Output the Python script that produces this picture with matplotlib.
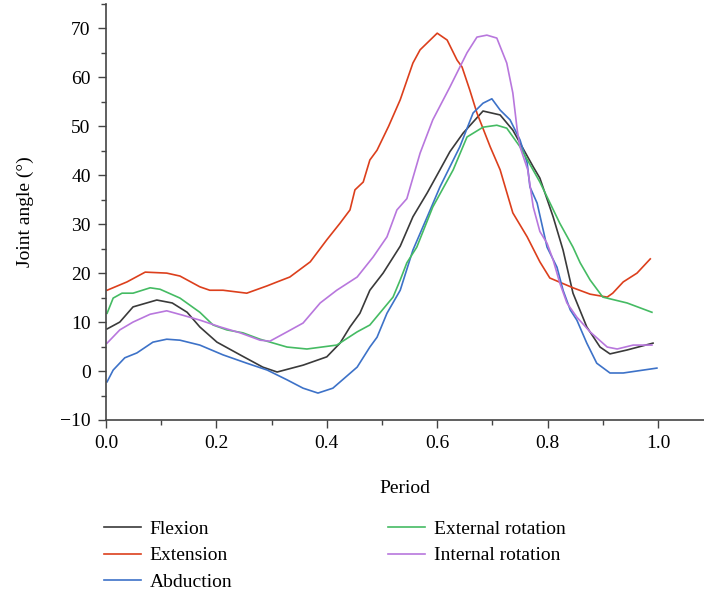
import matplotlib
matplotlib.use("Agg")
import matplotlib.pyplot as plt
from matplotlib.ticker import MultipleLocator

plt.rcParams["font.family"] = ["Liberation Serif", "DejaVu Serif"]

# Flexion (black)
flex_x = [0.002, 0.025, 0.049, 0.092, 0.12, 0.147, 0.17, 0.201, 0.243, 0.284, 0.31,
          0.357, 0.40, 0.424, 0.442, 0.46, 0.478, 0.502, 0.533, 0.556, 0.582, 0.605,
          0.623, 0.647, 0.683, 0.714, 0.737, 0.774, 0.786, 0.81, 0.828, 0.846,
          0.871, 0.895, 0.913, 0.944, 0.991]
flex_y = [8.6, 10.0, 13.1, 14.5, 13.9, 12.0, 9.0, 5.9, 3.3, 0.8, -0.2,
          1.2, 2.9, 5.7, 9.0, 11.8, 16.5, 20.0, 25.5, 31.5, 36.4, 41.1,
          44.8, 48.6, 53.1, 52.3, 49.2, 41.7, 39.4, 31.5, 24.7, 15.9,
          9.0, 4.9, 3.5, 4.3, 5.7]

# Extension (red)
ext_x = [0.002, 0.038, 0.071, 0.11, 0.134, 0.17, 0.188, 0.212, 0.255, 0.292, 0.31,
         0.333, 0.37, 0.40, 0.424, 0.442, 0.451, 0.466, 0.478, 0.491, 0.512, 0.533,
         0.556, 0.569, 0.60, 0.618, 0.636, 0.645, 0.659, 0.672, 0.696, 0.714,
         0.737, 0.763, 0.786, 0.804, 0.846, 0.877, 0.908, 0.918, 0.937, 0.962, 0.986]
ext_y = [16.5, 18.2, 20.2, 20.0, 19.4, 17.2, 16.5, 16.5, 15.9, 17.4, 18.2,
         19.2, 22.3, 26.8, 30.2, 32.9, 37.0, 38.6, 43.1, 45.1, 50.0, 55.4,
         62.9, 65.6, 69.0, 67.6, 63.5, 62.1, 57.4, 52.7, 45.8, 41.1,
         32.3, 27.4, 22.3, 19.0, 17.0, 15.7, 15.1, 15.9, 18.2, 20.0, 22.9]

# Abduction (blue)
abd_x = [0.002, 0.013, 0.034, 0.056, 0.085, 0.11, 0.134, 0.17, 0.212, 0.255, 0.292,
         0.328, 0.357, 0.384, 0.411, 0.455, 0.478, 0.491, 0.509, 0.533, 0.556,
         0.582, 0.605, 0.641, 0.665, 0.683, 0.699, 0.714, 0.732, 0.75, 0.763,
         0.768, 0.781, 0.799, 0.817, 0.828, 0.841, 0.853, 0.871, 0.889, 0.913,
         0.937, 0.998]
abd_y = [-2.2, 0.2, 2.7, 3.7, 5.9, 6.5, 6.3, 5.3, 3.3, 1.6, 0.2,
         -1.8, -3.5, -4.5, -3.5, 0.8, 4.9, 6.9, 11.8, 16.5, 24.7,
         31.5, 37.6, 45.8, 52.7, 54.7, 55.6, 53.3, 51.3, 47.2, 42.5,
         37.6, 34.3, 25.3, 21.2, 16.5, 12.5, 10.4, 5.7, 1.6, -0.4,
         -0.4, 0.6]

# External rotation (green)
er_x = [0.002, 0.013, 0.029, 0.049, 0.08, 0.098, 0.134, 0.17, 0.194, 0.219, 0.248,
        0.279, 0.328, 0.364, 0.418, 0.455, 0.478, 0.52, 0.533, 0.545, 0.563,
        0.592, 0.629, 0.654, 0.683, 0.708, 0.726, 0.75, 0.786, 0.822, 0.846,
        0.859, 0.877, 0.90, 0.944, 0.989]
er_y = [11.8, 14.9, 15.9, 15.9, 17.0, 16.7, 14.9, 12.0, 9.4, 8.4, 7.8,
        6.5, 4.9, 4.5, 5.3, 8.0, 9.4, 15.1, 18.6, 22.1, 25.3,
        33.5, 41.1, 47.8, 49.8, 50.2, 49.6, 45.8, 38.6, 30.2, 25.3,
        22.1, 18.6, 15.1, 13.9, 12.0]

# Internal rotation (purple)
ir_x = [0.002, 0.025, 0.049, 0.08, 0.11, 0.139, 0.17, 0.207, 0.243, 0.279, 0.297,
        0.328, 0.357, 0.388, 0.418, 0.455, 0.484, 0.509, 0.527, 0.545, 0.569,
        0.592, 0.623, 0.654, 0.672, 0.69, 0.708, 0.726, 0.737, 0.745, 0.75,
        0.764, 0.774, 0.786, 0.799, 0.81, 0.822, 0.835, 0.853, 0.877, 0.908,
        0.926, 0.955, 0.989]
ir_y = [5.7, 8.4, 10.0, 11.6, 12.3, 11.4, 10.4, 9.0, 7.8, 6.3, 6.1,
        8.0, 9.8, 13.9, 16.5, 19.2, 23.3, 27.4, 32.9, 35.2, 44.5,
        51.3, 58.0, 65.0, 68.2, 68.6, 68.0, 62.9, 56.8, 49.2, 45.8,
        41.1, 33.5, 28.5, 26.1, 22.7, 18.0, 13.9, 11.0, 8.0, 4.9,
        4.5, 5.3, 5.3]

series = [
    ("Flexion", flex_x, flex_y, "#3a3a3a"),
    ("Extension", ext_x, ext_y, "#dc3f1c"),
    ("Abduction", abd_x, abd_y, "#3d72c8"),
    ("External rotation", er_x, er_y, "#45bb63"),
    ("Internal rotation", ir_x, ir_y, "#b877dd"),
]

W, H = 704, 597
fig = plt.figure(figsize=(W / 100, H / 100), dpi=100)
x0, x1 = 106, 704
y0, y1 = 420, 3.8
ax = fig.add_axes([x0 / W, 1 - y0 / H, (x1 - x0) / W, (y0 - y1) / H])

for name, xs, ys, c in series:
    ax.plot(xs, ys, color=c, lw=1.2, label=name)

ax.set_xlim(0, (x1 - x0) / 552)
ax.set_ylim(-10, 75)
ax.yaxis.set_major_locator(MultipleLocator(10))
ax.yaxis.set_minor_locator(MultipleLocator(5))
ax.set_xticks([0, 0.2, 0.4, 0.6, 0.8, 1.0])
ax.set_xticklabels(["0.0", "0.2", "0.4", "0.6", "0.8", "1.0"])
ax.set_xticks([0.1, 0.3, 0.5, 0.7, 0.9], minor=True)

for s in ["top", "right"]:
    ax.spines[s].set_visible(False)
for s in ["left", "bottom"]:
    ax.spines[s].set_color("#444444")
    ax.spines[s].set_linewidth(1.2)

fs = 14
ax.tick_params(which="major", length=6, width=1, color="#444444", labelsize=fs, pad=5)
ax.tick_params(which="minor", length=3.5, width=1, color="#444444")

ax.set_xlabel("Period", fontsize=fs, labelpad=20)
ax.set_ylabel("Joint angle (°)", fontsize=fs, labelpad=19)

fig.legend(loc="upper left", bbox_to_anchor=(104 / W, 1 - 520 / H), ncol=2,
           frameon=False, fontsize=fs, handlelength=1.9, handletextpad=0.45,
           labelspacing=0.47, columnspacing=8.0, borderpad=0, borderaxespad=0)

fig.savefig("out.png", dpi=100)
